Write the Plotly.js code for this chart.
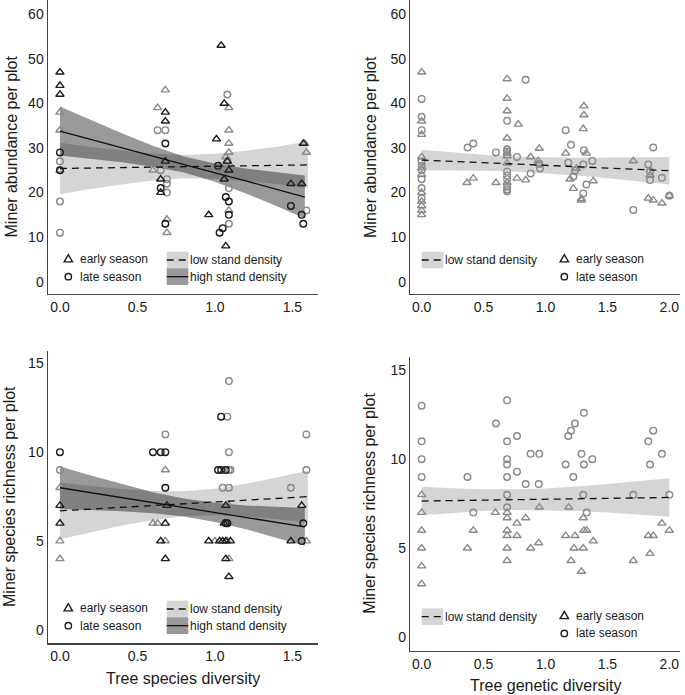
<!DOCTYPE html>
<html>
<head>
<meta charset="utf-8">
<script src="https://cdn.plot.ly/plotly-3.0.1.min.js"></script>
<style>html,body{margin:0;padding:0;background:#fff;}#chart{width:685px;height:695px;}</style>
</head>
<body>
<div id="chart"></div>
<script>
// ---------- Panel 1: Miner abundance vs tree species diversity ----------
const p1HighEarlyX = [0, 0, 0, 0.68, 0.68, 0.68, 0.65, 0.65, 1.04, 1.06, 1.01, 1.08, 1.09, 1.06, 0.96, 1.07, 1.49, 1.56, 1.57];
const p1HighEarlyY = [47, 44, 42, 38, 36, 27, 23, 20, 53, 40, 32, 27, 25, 23, 15, 8, 22, 22, 31];
const p1HighLateX = [0, 0, 0.68, 0.65, 0.68, 1.02, 1.07, 1.09, 1.09, 1.05, 1.03, 1.49, 1.56, 1.57];
const p1HighLateY = [29, 25, 31, 21, 13, 26, 19, 18, 15, 12, 11, 17, 15, 13];
const p1LowEarlyX = [0, 0, 0, 0.68, 0.63, 0.60, 0.69, 0.69, 0.69, 1.09, 1.09, 1.09, 1.09, 1.07, 1.08, 1.10, 1.09, 1.08, 1.09, 1.58, 1.59];
const p1LowEarlyY = [38, 34, 25, 43, 39, 25, 26, 14, 11, 39, 34, 31, 29, 28, 27, 26, 25, 24, 16, 31, 29];
const p1LowLateX = [0, 0, 0, 0.63, 0.68, 0.65, 0.69, 0.69, 0.69, 0.69, 1.08, 0.97, 1.08, 1.07, 1.09, 1.09, 1.09, 1.59];
const p1LowLateY = [27, 18, 11, 34, 34, 25, 26.5, 23, 22, 20, 42, 25, 27, 26, 24, 21, 13, 16];
const p1LowX = [0, 0.2, 0.4, 0.6, 0.8, 1.0, 1.2, 1.4, 1.6];
const p1LowFit = [25.4, 25.5, 25.6, 25.7, 25.8, 25.9, 26.0, 26.1, 26.2];
const p1LowLo = [19.6, 20.8, 21.8, 22.7, 23.2, 23.1, 22.6, 21.9, 20.9];
const p1LowHi = [31.2, 30.2, 29.4, 28.7, 28.4, 28.7, 29.4, 30.3, 31.5];
const p1HighX = [0, 0.2, 0.4, 0.6, 0.8, 1.0, 1.2, 1.4, 1.58];
const p1HighFit = [33.8, 31.9, 30.1, 28.2, 26.3, 24.4, 22.6, 20.7, 19.0];
const p1HighLo = [28.3, 27.6, 26.8, 25.8, 24.5, 22.4, 19.8, 16.9, 14.2];
const p1HighHi = [39.3, 36.3, 33.3, 30.5, 28.1, 26.5, 25.4, 24.5, 23.8];

// ---------- Panel 2: Miner abundance vs tree genetic diversity ----------
const p2EarlyX = [0,0,0,0,0,0,0,0,0,0,0, 0.366, 0.417, 0.60, 0.69,0.69,0.69,0.69,0.69,0.69,0.69,0.69, 0.78, 0.77, 0.84, 0.88, 0.95, 0.94, 1.163, 1.198, 1.225, 1.25, 1.29, 1.29, 1.31, 1.31, 1.305, 1.33, 1.386, 1.709, 1.844, 1.83, 1.87, 1.94, 2.0];
const p2EarlyY = [47, 36, 33, 28, 25.5, 24, 20, 18, 17, 16, 15, 22.2, 23.2, 22.2, 45.5, 41.1, 38.3, 32.2, 28.8, 28.2, 26.6, 22.2, 35.3, 23.2, 22.8, 28.0, 29.9, 27.1, 28.8, 23.0, 20.9, 25.4, 18.6, 18.3, 39.4, 37.4, 34.3, 28.8, 22.6, 27.1, 23.9, 18.7, 18.3, 17.6, 19.3];
const p2LateX = [0,0,0,0,0,0,0,0,0, 0.371, 0.417, 0.60, 0.69,0.69,0.69,0.69,0.69,0.69,0.69,0.69,0.69, 0.77, 0.84, 0.88, 0.95, 0.956, 1.163, 1.206, 1.184, 1.225, 1.238, 1.31, 1.305, 1.305, 1.33, 1.378, 1.709, 1.83, 1.844, 1.844, 1.87, 1.94, 2.0];
const p2LateY = [41, 37, 34, 27, 26, 25, 23, 21, 18.7, 30.1, 31.0, 29.0, 36.1, 29.7, 29.2, 24.7, 23.8, 23.0, 21.3, 20.7, 20.3, 28.0, 45.3, 24.3, 26.4, 25.4, 34.0, 30.7, 26.7, 23.6, 24.9, 29.5, 26.3, 19.8, 21.8, 27.1, 16.1, 26.3, 24.7, 22.8, 30.1, 23.3, 19.3];
const p2X = [0, 0.25, 0.5, 0.75, 1.0, 1.25, 1.5, 1.75, 2.0];
const p2Fit = [27.3, 27.0, 26.7, 26.4, 26.1, 25.8, 25.5, 25.2, 24.9];
const p2Lo = [25.0, 25.0, 24.9, 24.7, 24.3, 23.8, 23.2, 22.5, 21.8];
const p2Hi = [29.6, 29.0, 28.5, 28.1, 27.9, 27.8, 27.8, 27.9, 28.0];

// ---------- Panel 3: Miner species richness vs tree species diversity ----------
const p3HighEarlyX = [0, 0, 0.68, 0.69, 0.65, 0.68, 1.07, 1.06, 0.96, 1.03, 1.05, 1.07, 1.10, 1.07, 1.09, 1.56, 1.49];
const p3HighEarlyY = [7, 6, 6, 7, 5, 4, 7, 6, 5, 5, 5, 5, 5, 4, 3, 7, 5];
const p3HighLateX = [0, 0.60, 0.65, 0.68, 0.68, 1.04, 1.02, 1.04, 1.07, 1.07, 1.08, 1.57, 1.56];
const p3HighLateY = [10, 10, 10, 10, 8, 12, 9, 9, 9, 6, 6, 6, 5];
const p3LowEarlyX = [0, 0, 0, 0.68, 0.60, 0.63, 0.68, 0.65, 1.09, 1.09, 1.00, 1.08, 1.09, 1.59];
const p3LowEarlyY = [8, 5, 4, 9, 6, 6, 5, 7, 7, 6, 5, 5, 4, 5];
const p3LowLateX = [0, 0.68, 0.67, 1.09, 1.08, 1.09, 1.09, 1.10, 1.05, 1.09, 0.97, 1.59, 1.59, 1.49];
const p3LowLateY = [9, 11, 7, 14, 12, 10, 9, 9, 8, 8, 7, 11, 9, 8];
const p3LowX = [0, 0.2, 0.4, 0.6, 0.8, 1.0, 1.2, 1.4, 1.6];
const p3LowFit = [6.7, 6.8, 6.9, 7.0, 7.1, 7.2, 7.3, 7.4, 7.5];
const p3LowLo = [5.1, 5.5, 5.87, 6.18, 6.4, 6.46, 6.38, 6.23, 6.05];
const p3LowHi = [8.3, 8.1, 7.93, 7.82, 7.8, 7.94, 8.22, 8.57, 8.95];
const p3HighX = [0, 0.2, 0.4, 0.6, 0.8, 1.0, 1.2, 1.4, 1.58];
const p3HighFit = [8.0, 7.72, 7.44, 7.16, 6.89, 6.61, 6.33, 6.05, 5.8];
const p3HighLo = [6.8, 6.75, 6.68, 6.57, 6.39, 6.07, 5.66, 5.18, 4.74];
const p3HighHi = [9.2, 8.69, 8.2, 7.75, 7.39, 7.15, 7.0, 6.92, 6.86];

// ---------- Panel 4: Miner species richness vs tree genetic diversity ----------
const p4EarlyX = [0,0,0,0,0,0, 0.37, 0.417, 0.595, 0.69,0.69,0.69,0.69,0.69,0.69, 0.77, 0.77, 0.84, 0.88, 0.95, 0.945, 1.163, 1.187, 1.206, 1.238, 1.23, 1.29, 1.305, 1.31, 1.333, 1.305, 1.386, 1.709, 1.83, 1.87, 1.844, 1.94, 2.0];
const p4EarlyY = [8, 7, 6, 5, 4, 3, 5, 6, 7, 7, 6.7, 6, 5.7, 5, 4.3, 6.4, 5.7, 6.7, 5, 7.3, 5.3, 5.7, 7.3, 4.3, 5.7, 5, 3.7, 6.7, 6, 6, 5, 5.4, 4.3, 5.7, 5.7, 4.7, 6.4, 6];
const p4LateX = [0,0,0,0, 0.37, 0.417, 0.60, 0.69,0.69,0.69,0.69,0.69,0.69,0.69, 0.77, 0.77, 0.84, 0.88, 0.95, 0.945, 1.163, 1.184, 1.206, 1.238, 1.225, 1.29, 1.31, 1.31, 1.305, 1.333, 1.378, 1.709, 1.83, 1.87, 1.844, 1.94, 2.0];
const p4LateY = [13, 11, 10, 9, 9, 7, 12, 13.3, 11, 10, 9.7, 9, 8, 7.3, 11.3, 9.3, 8.6, 10.3, 10.3, 8.6, 9.7, 11.3, 11.6, 12, 9, 10.3, 12.6, 9.7, 8, 7, 10, 8, 11, 11.6, 9.7, 10.3, 8];
const p4X = [0, 0.25, 0.5, 0.75, 1.0, 1.25, 1.5, 1.75, 2.0];
const p4Fit = [7.65, 7.68, 7.7, 7.73, 7.75, 7.78, 7.8, 7.83, 7.85];
const p4Lo = [6.85, 6.99, 7.09, 7.15, 7.14, 7.09, 7.0, 6.9, 6.77];
const p4Hi = [8.45, 8.37, 8.31, 8.31, 8.36, 8.47, 8.6, 8.76, 8.93];

// ---------- Text ----------
const seasonLabels = ['early season', 'late season'];
const densityLabels = ['low stand density', 'high stand density'];
const yTitleAbund = 'Miner abundance per plot';
const yTitleRich = 'Miner species richness per plot';
const xTitleSpecies = 'Tree species diversity';
const xTitleGenetic = 'Tree genetic diversity';

// ---------- Styles ----------
const W = 685, H = 695;
const FONT = '"Liberation Sans", Arial, Helvetica, sans-serif';
const TXT = '#1a1a1a';
const BLACK = '#1c1c1c';
const GRAY = '#8a8a8a';
const LIGHT = '#d5d5d5';
const DARK = 'rgba(0,0,0,0.40)';
const TRI = 7.2, CIR = 6.6, MLW = 1.4;

function band(xs, lo, hi, color, xa, ya) {
  return {x: xs.concat(xs.slice().reverse()), y: lo.concat(hi.slice().reverse()),
    mode: 'lines', fill: 'toself', fillcolor: color, line: {width: 0},
    xaxis: xa, yaxis: ya, hoverinfo: 'skip', showlegend: false};
}
function fitLine(xs, ys, dash, xa, ya) {
  return {x: xs, y: ys, mode: 'lines', line: {color: '#111', width: 1.3, dash: dash},
    xaxis: xa, yaxis: ya, hoverinfo: 'skip', showlegend: false};
}
function pts(xs, ys, sym, color, xa, ya) {
  return {x: xs, y: ys, mode: 'markers', xaxis: xa, yaxis: ya, showlegend: false,
    marker: {symbol: sym, size: sym.indexOf('triangle') === 0 ? TRI : CIR, color: color, line: {width: MLW, color: color}}};
}
const DASH = '7px,5px';

const data = [
  band(p1LowX, p1LowLo, p1LowHi, LIGHT, 'x', 'y'),
  band(p1HighX, p1HighLo, p1HighHi, DARK, 'x', 'y'),
  pts(p1LowEarlyX, p1LowEarlyY, 'triangle-up-open', GRAY, 'x', 'y'),
  pts(p1LowLateX, p1LowLateY, 'circle-open', GRAY, 'x', 'y'),
  pts(p1HighEarlyX, p1HighEarlyY, 'triangle-up-open', BLACK, 'x', 'y'),
  pts(p1HighLateX, p1HighLateY, 'circle-open', BLACK, 'x', 'y'),
  fitLine(p1LowX, p1LowFit, DASH, 'x', 'y'),
  fitLine(p1HighX, p1HighFit, 'solid', 'x', 'y'),

  band(p2X, p2Lo, p2Hi, LIGHT, 'x2', 'y2'),
  pts(p2EarlyX, p2EarlyY, 'triangle-up-open', GRAY, 'x2', 'y2'),
  pts(p2LateX, p2LateY, 'circle-open', GRAY, 'x2', 'y2'),
  fitLine(p2X, p2Fit, DASH, 'x2', 'y2'),

  band(p3LowX, p3LowLo, p3LowHi, LIGHT, 'x3', 'y3'),
  band(p3HighX, p3HighLo, p3HighHi, DARK, 'x3', 'y3'),
  pts(p3LowEarlyX, p3LowEarlyY, 'triangle-up-open', GRAY, 'x3', 'y3'),
  pts(p3LowLateX, p3LowLateY, 'circle-open', GRAY, 'x3', 'y3'),
  pts(p3HighEarlyX, p3HighEarlyY, 'triangle-up-open', BLACK, 'x3', 'y3'),
  pts(p3HighLateX, p3HighLateY, 'circle-open', BLACK, 'x3', 'y3'),
  fitLine(p3LowX, p3LowFit, DASH, 'x3', 'y3'),
  fitLine(p3HighX, p3HighFit, 'solid', 'x3', 'y3'),

  band(p4X, p4Lo, p4Hi, LIGHT, 'x4', 'y4'),
  pts(p4EarlyX, p4EarlyY, 'triangle-up-open', GRAY, 'x4', 'y4'),
  pts(p4LateX, p4LateY, 'circle-open', GRAY, 'x4', 'y4'),
  fitLine(p4X, p4Fit, DASH, 'x4', 'y4')
];

const px = v => v / W;
const py = v => 1 - v / H;

function xAxis(d0, d1, r, anchor, tv) {
  return {domain: [px(d0), px(d1)], range: r, anchor: anchor, showgrid: false, zeroline: false,
    showline: true, linecolor: '#444', linewidth: 1.2, ticks: '', tickvals: tv,
    tickformat: '.1f', tickfont: {family: FONT, size: 14, color: TXT}, fixedrange: true};
}
function yAxis(top, bot, r, anchor, dt) {
  return {domain: [py(bot), py(top)], range: r, anchor: anchor, showgrid: false, zeroline: false,
    showline: true, linecolor: '#444', linewidth: 1.2, ticks: '', dtick: dt, tick0: 0,
    tickfont: {family: FONT, size: 14, color: TXT}, fixedrange: true};
}

const shapes = [];
const annotations = [];
function txt(x, y, s, size, extra) {
  annotations.push(Object.assign({xref: 'paper', yref: 'paper', x: px(x), y: py(y), text: s, showarrow: false,
    xanchor: 'left', yanchor: 'middle', font: {family: FONT, size: size, color: TXT}}, extra || {}));
}
function triKey(x, y) {
  shapes.push({type: 'path', xref: 'paper', yref: 'paper', xsizemode: 'pixel', ysizemode: 'pixel',
    xanchor: px(x), yanchor: py(y), path: 'M-4.2,-2.6 L4.2,-2.6 L0,4.6 Z', line: {color: BLACK, width: 1.4}});
}
function cirKey(x, y) {
  shapes.push({type: 'circle', xref: 'paper', yref: 'paper', xsizemode: 'pixel', ysizemode: 'pixel',
    xanchor: px(x), yanchor: py(y), x0: -3.2, x1: 3.2, y0: -3.2, y1: 3.2, line: {color: BLACK, width: 1.4}});
}
function rectKey(x0, x1, y0, y1, col) {
  shapes.push({type: 'rect', xref: 'paper', yref: 'paper', x0: px(x0), x1: px(x1), y0: py(y1), y1: py(y0),
    fillcolor: col, line: {width: 0}, layer: 'above'});
}
function lineKey(x0, x1, y, dash) {
  shapes.push({type: 'line', xref: 'paper', yref: 'paper', x0: px(x0), x1: px(x1), y0: py(y), y1: py(y),
    line: {color: '#111', width: 1.3, dash: dash}, layer: 'above'});
}
function seasonKey(x, y) {
  triKey(x, y); txt(x + 10, y, seasonLabels[0], 12);
  cirKey(x, y + 17.4); txt(x + 10, y + 17.4, seasonLabels[1], 12);
}
function densityKey(x, y, both) {
  rectKey(x, x + 21.6, y - 8.3, y + 8.3, LIGHT);
  lineKey(x, x + 21.6, y, '7px,5px');
  txt(x + 21.5, y, densityLabels[0], 12);
  if (both) {
    rectKey(x, x + 21.6, y + 8.3, y + 25, 'rgba(0,0,0,0.40)');
    lineKey(x, x + 21.6, y + 16.7, 'solid');
    txt(x + 21.5, y + 16.7, densityLabels[1], 12);
  }
}
// legends
seasonKey(68.3, 259.3); densityKey(166.7, 260, true);
densityKey(421.7, 260, false); seasonKey(564.3, 259.3);
seasonKey(68.3, 608.3); densityKey(166.7, 609, true);
densityKey(421.7, 616.7, false); seasonKey(564.3, 616);

// axis titles
txt(10.5, 147, yTitleAbund, 16, {xanchor: 'center', textangle: -90});
txt(370, 147, yTitleAbund, 16, {xanchor: 'center', textangle: -90});
txt(9, 497, yTitleRich, 16, {xanchor: 'center', textangle: -90});
txt(370, 503.7, yTitleRich, 16, {xanchor: 'center', textangle: -90});
txt(182.9, 678, xTitleSpecies, 16, {xanchor: 'center'});
txt(545, 685, xTitleGenetic, 16, {xanchor: 'center'});

const layout = {
  width: W, height: H, margin: {l: 0, r: 0, t: 0, b: 0},
  paper_bgcolor: '#fff', plot_bgcolor: '#fff', showlegend: false,
  font: {family: FONT, color: TXT},
  xaxis: xAxis(47.7, 318, [-0.079, 1.665], 'y', [0, 0.5, 1, 1.5]),
  yaxis: yAxis(0, 294, [-2.76, 63.2], 'x', 10),
  xaxis2: xAxis(410, 680, [-0.094, 2.086], 'y2', [0, 0.5, 1, 1.5, 2]),
  yaxis2: yAxis(0, 294, [-2.76, 63.2], 'x2', 10),
  xaxis3: xAxis(47.7, 318, [-0.079, 1.665], 'y3', [0, 0.5, 1, 1.5]),
  yaxis3: yAxis(350.7, 643.3, [-0.75, 15.71], 'x3', 5),
  xaxis4: xAxis(410, 680, [-0.094, 2.086], 'y4', [0, 0.5, 1, 1.5, 2]),
  yaxis4: yAxis(356.7, 650.7, [-0.75, 15.75], 'x4', 5),
  shapes: shapes, annotations: annotations
};

Plotly.newPlot('chart', data, layout, {displayModeBar: false, staticPlot: true});
</script>
</body>
</html>
